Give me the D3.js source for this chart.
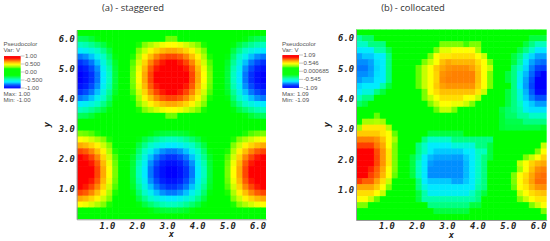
<!DOCTYPE html>
<html>
<head>
<meta charset="utf-8">
<script src="https://cdn.jsdelivr.net/npm/d3@7"></script>
<style>
	html, body { margin: 0; padding: 0; background: #fff; }
	.title { font-family: "Open Sans", sans-serif; font-size: 9.4px; fill: #333; text-anchor: middle; }
	.legend text { font-family: "Liberation Sans", sans-serif; font-size: 6.1px; fill: #555; }
	.axis text, .axis-title { font-family: "DejaVu Sans Mono", monospace; font-size: 8.8px; font-weight: bold; font-style: italic; fill: #222; }
	.cells { filter: blur(0.35px); }
</style>
</head>
<body>
<svg id="graph" width="550" height="241"></svg>
<script>
// V x 100, top row first
var v_staggered = [
	[-10,-10,-9,-8,-6,-5,-3,-1,1,3,5,6,8,9,10,10,10,10,9,8,6,5,3,1,-1,-3,-5,-6,-8,-9,-10,-10],
	[-33,-32,-28,-22,-18,-14,-8,-3,3,8,14,18,20,20,20,28,28,20,20,20,18,14,8,3,-3,-8,-14,-18,-22,-28,-32,-33],
	[-47,-45,-41,-36,-30,-22,-14,-5,5,14,22,30,36,41,45,47,47,45,41,36,30,22,14,5,-5,-14,-22,-30,-36,-41,-45,-47],
	[-63,-60,-55,-49,-40,-30,-18,-6,6,18,30,40,49,55,60,63,63,60,55,49,40,30,18,6,-6,-18,-30,-40,-49,-55,-60,-63],
	[-77,-74,-68,-59,-49,-36,-22,-8,8,22,36,49,59,68,74,77,77,74,68,59,49,36,22,8,-8,-22,-36,-49,-59,-68,-74,-77],
	[-88,-84,-77,-68,-55,-41,-26,-9,9,26,41,55,68,77,84,88,88,84,77,68,55,41,26,9,-9,-26,-41,-55,-68,-77,-84,-88],
	[-96,-92,-84,-74,-60,-45,-28,-10,10,28,45,60,74,84,92,96,96,92,84,74,60,45,28,10,-10,-28,-45,-60,-74,-84,-92,-96],
	[-100,-96,-88,-77,-63,-47,-29,-10,10,29,47,63,77,88,96,100,100,96,88,77,63,47,29,10,-10,-29,-47,-63,-77,-88,-96,-100],
	[-100,-96,-88,-77,-63,-47,-29,-10,10,29,47,63,77,88,96,100,100,96,88,77,63,47,29,10,-10,-29,-47,-63,-77,-88,-96,-100],
	[-96,-92,-84,-74,-60,-45,-28,-10,10,28,45,60,74,84,92,96,96,92,84,74,60,45,28,10,-10,-28,-45,-60,-74,-84,-92,-96],
	[-88,-84,-77,-68,-55,-41,-26,-9,9,26,41,55,68,77,84,88,88,84,77,68,55,41,26,9,-9,-26,-41,-55,-68,-77,-84,-88],
	[-77,-74,-68,-59,-49,-36,-22,-8,8,22,36,49,59,68,74,77,77,74,68,59,49,36,22,8,-8,-22,-36,-49,-59,-68,-74,-77],
	[-63,-60,-55,-49,-40,-30,-18,-6,6,18,30,40,49,55,60,63,63,60,55,49,40,30,18,6,-6,-18,-30,-40,-49,-55,-60,-63],
	[-47,-45,-41,-36,-30,-22,-14,-5,5,14,22,30,36,41,45,47,47,45,41,36,30,22,14,5,-5,-14,-22,-30,-36,-41,-45,-47],
	[-33,-32,-28,-22,-18,-14,-8,-3,3,8,14,18,20,20,20,28,28,20,20,20,18,14,8,3,-3,-8,-14,-18,-22,-28,-32,-33],
	[-10,-10,-9,-8,-6,-5,-3,-1,1,3,5,6,8,9,10,10,10,10,9,8,6,5,3,1,-1,-3,-5,-6,-8,-9,-10,-10],
	[10,10,9,8,6,5,3,1,-1,-3,-5,-6,-8,-9,-10,-10,-10,-10,-9,-8,-6,-5,-3,-1,1,3,5,6,8,9,10,10],
	[29,28,26,22,18,14,8,3,-3,-8,-14,-18,-22,-26,-28,-29,-29,-28,-26,-22,-18,-14,-8,-3,3,8,14,18,22,26,28,29],
	[47,45,41,36,30,22,14,5,-5,-14,-22,-30,-36,-41,-45,-47,-47,-45,-41,-36,-30,-22,-14,-5,5,14,22,30,36,41,45,47],
	[63,60,55,49,40,30,18,6,-6,-18,-30,-40,-49,-55,-60,-63,-63,-60,-55,-49,-40,-30,-18,-6,6,18,30,40,49,55,60,63],
	[77,74,68,59,49,36,22,8,-8,-22,-36,-49,-59,-68,-74,-77,-77,-74,-68,-59,-49,-36,-22,-8,8,22,36,49,59,68,74,77],
	[88,84,77,68,55,41,26,9,-9,-26,-41,-55,-68,-77,-84,-88,-88,-84,-77,-68,-55,-41,-26,-9,9,26,41,55,68,77,84,88],
	[96,92,84,74,60,45,28,10,-10,-28,-45,-60,-74,-84,-92,-96,-96,-92,-84,-74,-60,-45,-28,-10,10,28,45,60,74,84,92,96],
	[100,96,88,77,63,47,29,10,-10,-29,-47,-63,-77,-88,-96,-100,-100,-96,-88,-77,-63,-47,-29,-10,10,29,47,63,77,88,96,100],
	[100,96,88,77,63,47,29,10,-10,-29,-47,-63,-77,-88,-96,-100,-100,-96,-88,-77,-63,-47,-29,-10,10,29,47,63,77,88,96,100],
	[96,92,84,74,60,45,28,10,-10,-28,-45,-60,-74,-84,-92,-96,-96,-92,-84,-74,-60,-45,-28,-10,10,28,45,60,74,84,92,96],
	[88,84,77,68,55,41,26,9,-9,-26,-41,-55,-68,-77,-84,-88,-88,-84,-77,-68,-55,-41,-26,-9,9,26,41,55,68,77,84,88],
	[77,74,68,59,49,36,22,8,-8,-22,-36,-49,-59,-68,-74,-77,-77,-74,-68,-59,-49,-36,-22,-8,8,22,36,49,59,68,74,77],
	[63,60,55,49,40,30,18,6,-6,-18,-30,-40,-49,-55,-60,-63,-63,-60,-55,-49,-40,-30,-18,-6,6,18,30,40,49,55,60,63],
	[47,45,41,36,30,22,14,5,-5,-14,-22,-30,-36,-41,-45,-47,-47,-45,-41,-36,-30,-22,-14,-5,5,14,22,30,36,41,45,47],
	[20,20,20,20,18,14,8,3,-3,-8,-14,-18,-22,-26,-28,-29,-29,-28,-26,-22,-18,-14,-8,-3,3,8,14,18,20,20,20,20],
	[10,10,9,8,6,5,3,1,-1,-3,-5,-6,-8,-9,-10,-10,-10,-10,-9,-8,-6,-5,-3,-1,1,3,5,6,8,9,10,10]
];

var v_collocated = [
	[0,0,0,0,0,0,0,0,0,0,0,0,0,0,0,0,0,0,0,0,0,0,0,0,0,0,0,0,0,0,0,0],
	[-46,-38,-38,0,0,0,0,0,0,0,0,0,0,0,0,0,0,0,0,0,0,0,0,0,0,0,0,0,0,-32,-32,-32],
	[-53,-53,-42,-42,-42,0,0,0,0,0,0,0,0,0,32,32,32,32,27,32,32,0,0,0,0,0,0,0,-32,-42,-51,-51],
	[-69,-68,-68,-48,-48,-34,0,0,0,0,0,0,0,32,47,47,51,51,51,51,38,0,0,0,0,0,0,-32,-42,-53,-69,-69],
	[-78,-73,-73,-68,-68,-42,0,0,0,0,0,0,32,51,56,56,58,58,58,58,51,43,0,0,0,0,-32,-42,-59,-71,-78,-78],
	[-81,-81,-78,-70,-68,-42,0,0,0,0,0,32,43,51,64,69,66,66,66,66,58,51,32,0,0,0,-32,-46,-68,-78,-84,-86],
	[-84,-84,-79,-71,-68,-42,0,0,0,0,30,43,51,62,69,72,73,73,73,70,62,51,43,0,0,0,-42,-53,-71,-83,-93,-94],
	[-81,-81,-78,-70,-68,-42,0,0,0,0,30,43,51,60,72,74,75,75,75,75,64,51,32,0,0,-32,-42,-63,-75,-87,-101,-109],
	[-79,-75,-75,-69,-68,-42,0,0,0,0,30,43,51,60,73,75,75,75,75,75,64,51,32,0,0,-32,-42,-65,-78,-91,-109,-109],
	[-71,-68,-68,-68,-48,-32,0,0,0,0,30,43,51,62,70,72,72,72,72,72,62,51,32,0,0,0,-42,-68,-79,-93,-109,-109],
	[-68,-59,-59,-42,-32,0,0,0,0,0,0,32,51,58,64,64,64,64,64,64,56,43,0,0,0,-32,-42,-59,-76,-89,-106,-106],
	[-50,-42,-42,0,0,0,0,0,0,0,0,32,43,51,58,58,58,58,51,51,43,0,0,0,0,-32,-42,-57,-73,-83,-91,-91],
	[-38,-32,0,0,0,0,0,0,0,0,0,0,32,43,51,51,48,48,43,32,0,0,0,0,0,-32,-42,-51,-68,-73,-79,-79],
	[0,0,0,0,0,0,0,0,0,0,0,0,0,30,43,43,32,0,0,0,0,0,0,0,-32,-38,-42,-48,-65,-70,-70,-70],
	[0,0,0,30,0,0,0,0,0,0,0,0,0,0,0,0,0,0,0,0,0,0,0,0,-30,-38,-38,-46,-46,-53,-53,-53],
	[0,38,38,40,38,0,0,0,0,0,0,0,0,0,0,0,0,0,0,0,0,0,0,0,-30,-34,-34,-34,-42,-42,-42,-42],
	[38,56,56,56,56,40,0,0,0,0,0,0,0,0,0,0,0,0,0,0,0,0,0,0,-30,-32,-32,-32,-32,-32,-32,-28],
	[62,62,62,62,56,51,30,0,0,0,0,0,-32,-32,-32,-32,-32,-32,0,0,0,0,0,0,0,0,0,0,0,0,0,0],
	[75,75,75,72,64,51,38,0,0,0,0,-42,-53,-53,-53,-53,-42,-42,-42,-42,-42,-42,-42,0,0,0,0,0,0,0,0,0],
	[85,85,85,76,69,51,32,0,0,0,-42,-53,-68,-68,-68,-68,-59,-59,-59,-59,-42,-42,-32,0,0,0,0,0,0,0,0,43],
	[98,98,98,83,72,56,32,0,0,0,-42,-53,-69,-73,-73,-73,-73,-73,-68,-68,-51,-51,-32,0,0,0,0,0,0,0,32,51],
	[100,100,100,84,72,56,32,0,0,-32,-46,-68,-75,-78,-78,-78,-79,-79,-73,-68,-53,-42,-32,0,0,0,0,0,32,43,51,60],
	[104,104,104,84,72,56,32,0,0,-32,-51,-69,-79,-81,-81,-81,-81,-81,-75,-68,-53,-42,0,0,0,0,0,43,51,60,66,69],
	[104,104,90,80,69,51,32,0,0,-32,-51,-69,-81,-81,-81,-81,-81,-81,-75,-68,-53,-42,0,0,0,0,0,38,51,64,73,75],
	[100,100,85,78,66,51,30,0,0,-32,-51,-69,-81,-81,-81,-81,-81,-81,-75,-68,-53,-42,0,0,0,0,32,51,58,69,76,78],
	[86,80,80,70,58,43,0,0,0,0,-42,-68,-73,-73,-73,-73,-78,-78,-73,-68,-51,-42,0,0,0,0,32,51,60,70,78,78],
	[69,69,69,62,51,32,0,0,0,0,-42,-59,-69,-69,-69,-69,-69,-69,-68,-68,-48,-42,0,0,0,0,30,51,56,66,72,73],
	[58,58,58,51,43,0,0,0,0,0,-32,-48,-65,-65,-65,-65,-65,-65,-65,-53,-42,-32,0,0,0,0,0,43,51,58,62,64],
	[51,51,43,30,0,0,0,0,0,0,-32,-48,-48,-48,-48,-48,-48,-48,-48,-48,-42,0,0,0,0,0,0,32,43,51,56,56],
	[32,32,0,0,0,0,0,0,0,0,0,0,-42,-42,-42,-42,-42,-42,-42,-32,-32,0,0,0,0,0,0,0,0,32,43,51],
	[0,0,0,0,0,0,0,0,0,0,0,0,0,-32,-32,-32,-32,-32,-32,0,0,0,0,0,0,0,0,0,0,0,0,32],
	[0,0,0,0,0,0,0,0,0,0,0,0,0,0,0,0,0,0,0,0,0,0,0,0,0,0,0,0,0,0,0,0]
];

var titles = [ "(a) - staggered", "(b) - collocated" ];
var axis_ticks = [ 1, 2, 3, 4, 5, 6 ];
var x_extent = [ 0, 6.283 ];
var y_extent = [ 0, 6.283 ];

var legend_a = [ "1.00", "0.500", "0.00", "-0.500", "-1.00" ];
var legend_b = [ "1.09", "0.546", "0.000685", "-0.545", "-1.09" ];

// colour table as fractions of the series maximum
var color_stops  = [ -1, -0.88, -0.77, -0.63, -0.47, -0.29, -0.2, 0.2, 0.29, 0.47, 0.63, 0.77, 0.88, 1 ];
var color_values = [ "#0000ff", "#0032ff", "#0078ff", "#00ebff", "#00ffbe", "#00ff3c", "#00ff00", "#00ff00", "#78ff00", "#ffff00", "#ffaa00", "#ff4600", "#ff0000", "#ff0000" ];

var svg = d3.select( "#graph" );

function draw_panel( p ){
	var g = svg.append( "g" ).attr( "class", "panel" );

	var x = d3.scaleLinear().domain( x_extent ).range([ p.left, p.right ]);
	var y = d3.scaleLinear().domain( y_extent ).range([ p.bottom, p.top ]);
	var col = d3.scaleBand().domain( d3.range( p.data[0].length ) ).range([ p.left, p.right ]);
	var row = d3.scaleBand().domain( d3.range( p.data.length ) ).range([ p.top, p.bottom ]);

	var color = d3.scaleLinear()
		.domain( color_stops.map( s => s * p.max ) )
		.range( color_values )
		.clamp( true );

	// clip so the blur stays inside the plot square
	g.append( "clipPath" ).attr( "id", p.id )
		.append( "rect" )
			.attr( "x", p.left ).attr( "y", p.top )
			.attr( "width", p.right - p.left ).attr( "height", p.bottom - p.top );

	g.append( "g" ).attr( "clip-path", "url(#" + p.id + ")" )
		.append( "g" ).attr( "class", "cells" )
		.selectAll( "g" )
		.data( p.data )
		.enter()
		.append( "g" )
			.attr( "transform", function(d, i){ return "translate(0," + row( i ) + ")"; })
		.selectAll( "rect" )
		.data( d => d )
		.enter()
		.append( "rect" )
			.attr( "x", function(d, i){ return col( i ); })
			.attr( "width", col.bandwidth() + 0.5 )
			.attr( "height", row.bandwidth() + 0.5 )
			.style( "fill", d => color( d ) );

	// Add the X Axis
	var x_axis = d3.axisBottom( x ).tickValues( axis_ticks ).tickSize( 0 ).tickPadding( 3 ).tickFormat( d3.format( ".1f" ) );
	var x_g = g.append( "g" )
		.attr( "class", "x axis" )
		.attr( "transform", "translate(0," + p.bottom + ")" )
		.call( x_axis );
	x_g.select( ".domain" ).attr( "stroke", "#999" );

	// Add the Y Axis
	var y_axis = d3.axisLeft( y ).tickValues( axis_ticks ).tickSize( 0 ).tickPadding( 2 ).tickFormat( d3.format( ".1f" ) );
	var y_g = g.append( "g" )
		.attr( "class", "y axis" )
		.attr( "transform", "translate(" + p.left + ",0)" )
		.call( y_axis );
	y_g.select( ".domain" ).attr( "stroke", "#999" );

	g.append( "text" )
		.attr( "class", "axis-title" )
		.attr( "x", ( p.left + p.right ) / 2 )
		.attr( "y", p.bottom + 18 )
		.attr( "text-anchor", "middle" )
		.text( "x" );

	g.append( "text" )
		.attr( "class", "axis-title" )
		.attr( "transform", "translate(" + ( p.left - 26.5 ) + "," + ( ( p.top + p.bottom ) / 2 ) + ") rotate(-90)" )
		.attr( "text-anchor", "middle" )
		.text( "y" );

	g.append( "text" )
		.attr( "class", "title" )
		.attr( "x", p.title_x )
		.attr( "y", 10.5 )
		.text( p.title );

	// Legend
	var l = g.append( "g" ).attr( "class", "legend" );
	var bar_y = d3.scaleLinear().domain([ p.max, -p.max ]).range([ p.bar_top, p.bar_bottom ]);
	var bar_steps = d3.range( 64 ).map( i => p.max - ( i + 0.5 ) * 2 * p.max / 64 );

	l.selectAll( "rect" )
		.data( bar_steps )
		.enter()
		.append( "rect" )
			.attr( "x", p.bar_left )
			.attr( "y", d => bar_y( d ) - 0.5 * ( p.bar_bottom - p.bar_top ) / 64 )
			.attr( "width", 16.5 )
			.attr( "height", ( p.bar_bottom - p.bar_top ) / 64 + 0.4 )
			.style( "fill", d => color( d ) );

	var label_y = d3.scalePoint().domain( p.labels ).range([ p.bar_top, p.bar_bottom ]);

	l.selectAll( "line" )
		.data( p.labels )
		.enter()
		.append( "line" )
			.attr( "x1", p.bar_left + 16.5 )
			.attr( "x2", p.bar_left + 20.5 )
			.attr( "y1", d => label_y( d ) )
			.attr( "y2", d => label_y( d ) )
			.attr( "stroke", "#888" )
			.attr( "stroke-width", 0.5 );

	l.selectAll( "text.tick-label" )
		.data( p.labels )
		.enter()
		.append( "text" )
			.attr( "class", "tick-label" )
			.attr( "x", p.bar_left + 21 )
			.attr( "y", d => label_y( d ) + 2 )
			.text( d => d );

	[ "Pseudocolor", "Var: V" ].forEach(function(t, i){
		l.append( "text" ).attr( "x", p.bar_left - 0.5 ).attr( "y", 45.8 + i * 6 ).text( t );
	});
	[ p.max_label, p.min_label ].forEach(function(t, i){
		l.append( "text" ).attr( "x", p.bar_left - 0.5 ).attr( "y", 96 + i * 6 ).text( t );
	});
}

draw_panel({
	id : "clip-a", data : v_staggered, max : 100, title : titles[0], title_x : 133,
	left : 76.7, right : 266, top : 30, bottom : 219.3,
	bar_left : 4, bar_top : 56, bar_bottom : 88,
	labels : legend_a, max_label : "Max:  1.00", min_label : "Min:  -1.00"
});

draw_panel({
	id : "clip-b", data : v_collocated, max : 109, title : titles[1], title_x : 413,
	left : 356, right : 546.7, top : 29.3, bottom : 220,
	bar_left : 282.5, bar_top : 55, bar_bottom : 87.5,
	labels : legend_b, max_label : "Max:  1.09", min_label : "Min:  -1.09"
});
</script>
</body>
</html>
